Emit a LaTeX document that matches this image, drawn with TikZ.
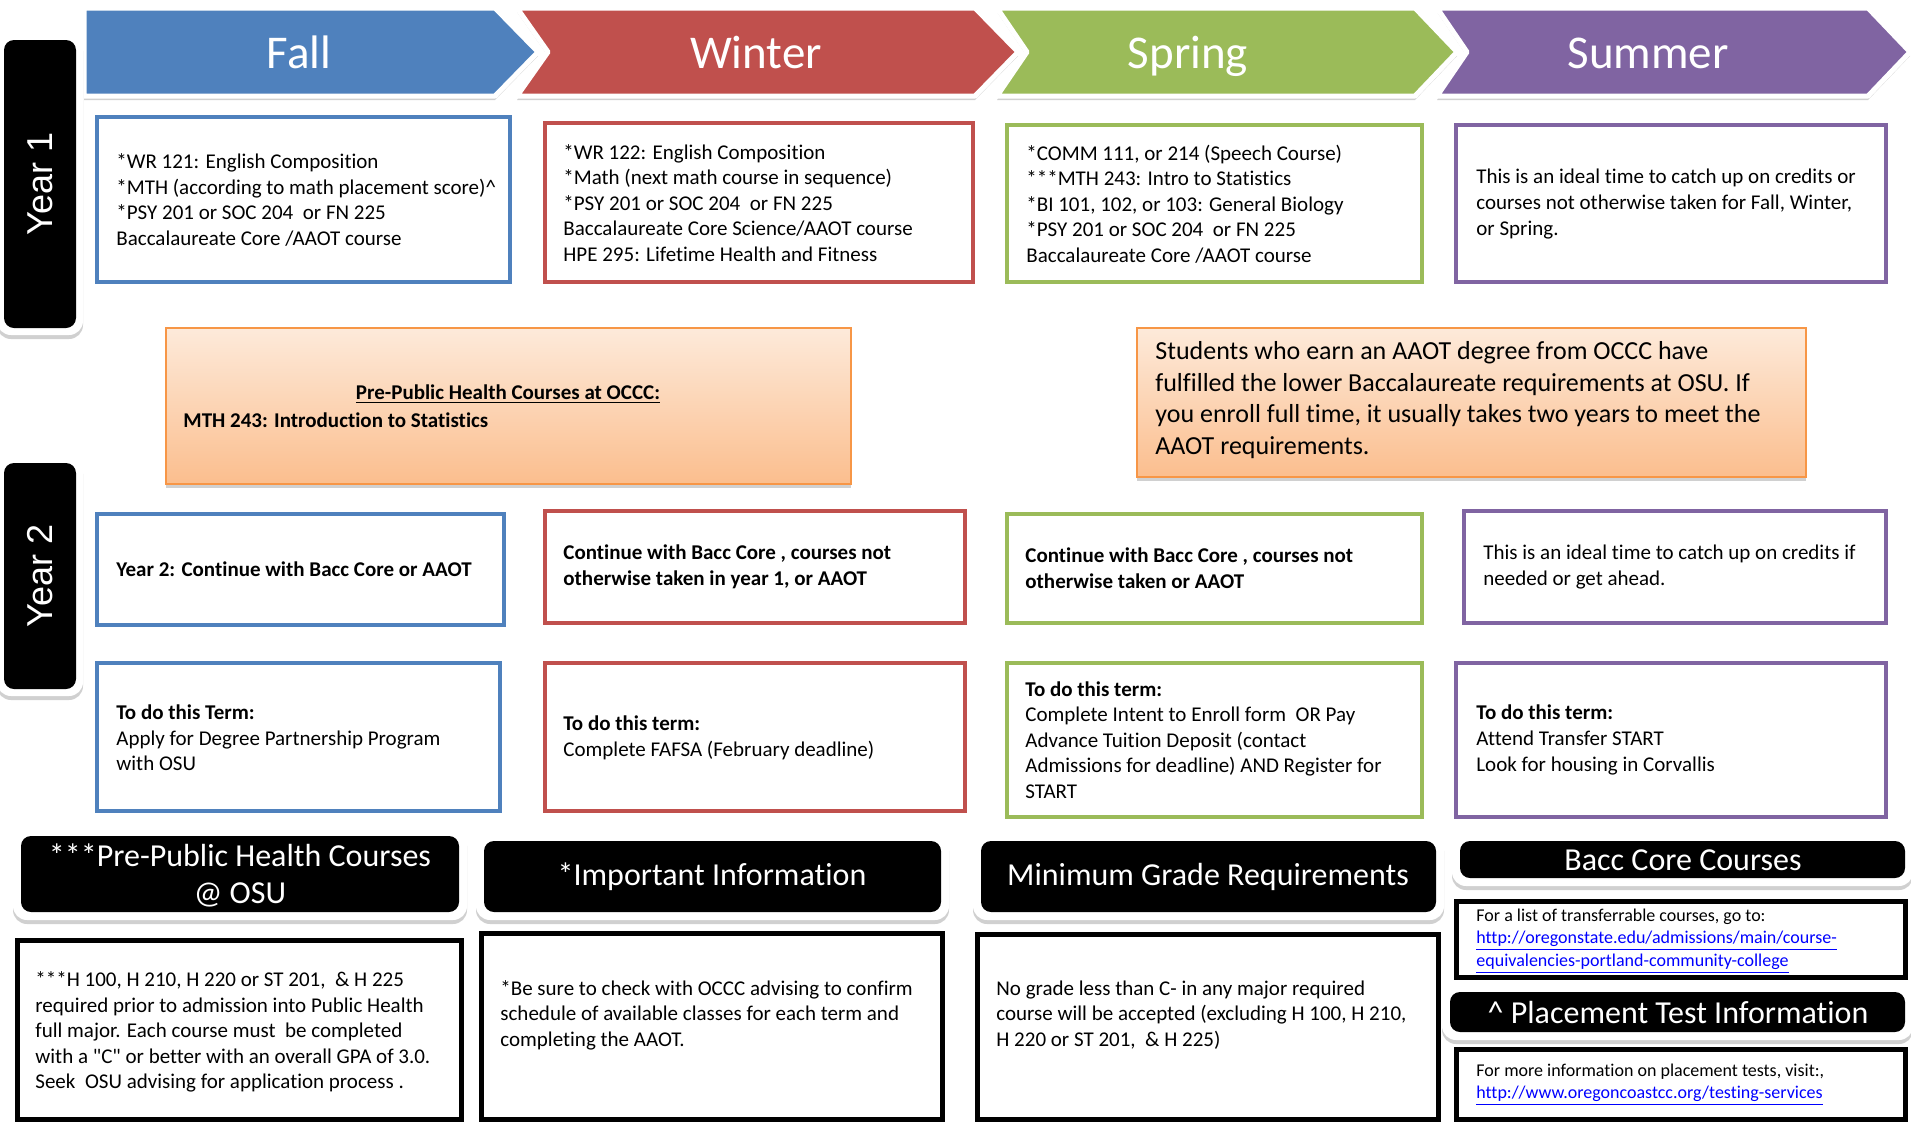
\documentclass[tikz,border=0pt]{standalone}
\usepackage{fontspec}
\setmainfont{Carlito}[Ligatures=CommonOff]
\newfontfamily\yearfont{Liberation Sans}
\newcommand\sqt{\XeTeXglyph\XeTeXcharglyph"22\relax}
\usetikzlibrary{shadows,fit}
\definecolor{cBlue}{HTML}{4F81BD}
\definecolor{cRed}{HTML}{C0504D}
\definecolor{cGreen}{HTML}{9BBB59}
\definecolor{cPurple}{HTML}{8064A2}
\definecolor{cOrange}{HTML}{F79646}
\definecolor{oTop}{HTML}{FDEADA}
\definecolor{oBot}{HTML}{FBBE8E}
\definecolor{cLink}{HTML}{0000FF}
\begin{document}
\begin{tikzpicture}[x=0.5pt,y=-0.5pt,
  myshadow/.style={drop shadow={shadow xshift=0pt,shadow yshift=-2pt,opacity=0.3,fill=black!60}},
  chev/.style={fill=#1,draw=white,line width=2.5pt,line join=round,myshadow},
  ttl/.style={text=white,inner sep=0,anchor=base,font=\fontsize{23.5}{28}\selectfont},
  cbox/.style={draw=#1,line width=2pt,fill=white,inner sep=-1pt},
  kbox/.style={draw=black,line width=2.5pt,fill=white,inner sep=-1.25pt},
  obox/.style={draw=cOrange,line width=1pt,top color=oTop,bottom color=oBot,inner sep=-0.5pt,myshadow},
  txt/.style={inner sep=0,anchor=west,align=left,font=\fontsize{10.5}{12.8}\selectfont},
  btxt/.style={inner sep=0,anchor=west,align=left,font=\fontsize{10.5}{12.8}\selectfont\bfseries},
  stxt/.style={inner sep=0,anchor=west,align=left,font=\fontsize{9}{11.2}\selectfont},
  wframe/.style={fill=white,rounded corners=7pt,inner sep=0,myshadow},
  kframe/.style={fill=black,rounded corners=5pt,inner sep=0},
  htxt/.style={text=white,inner sep=0,align=center,font=\fontsize{16}{18.5}\selectfont},
  ylab/.style={text=white,inner sep=0,rotate=90,font=\yearfont\fontsize{18}{20}\selectfont}]
\useasboundingbox (0,0) rectangle (1911,1125);
\fill[white] (0,0) rectangle (1911,1125);

% chevrons
\path[chev=cPurple] (1437,8) -- (1868,8) -- (1910,52) -- (1868,96) -- (1437,96) -- (1467,52) -- cycle;
\path[chev=cGreen] (997,8) -- (1415,8) -- (1457,52) -- (1415,96) -- (997,96) -- (1027,52) -- cycle;
\path[chev=cRed] (517,8) -- (975,8) -- (1018,52) -- (975,96) -- (517,96) -- (548,52) -- cycle;
\path[chev=cBlue] (84,8) -- (495,8) -- (538,52) -- (495,96) -- (84,96) -- cycle;
\node[ttl] (tFall) at (299,68) {Fall};
\node[ttl] (tWinter) at (756,68) {Winter};
\node[ttl] (tSpring) at (1188,68) {Spring};
\node[ttl] (tSummer) at (1648,68) {Summer};

% year labels
\node[wframe,fit={(-3,33) (83,335)}] (y1w) {};
\node[kframe,fit={(4,40) (76,328)}] (y1) {};
\node[ylab] (y1t) at (40,184) {Year 1};
\node[wframe,fit={(-3,456) (83,696)}] (y2w) {};
\node[kframe,fit={(4,463) (76,689)}] (y2) {};
\node[ylab] (y2t) at (40,576) {Year 2};

% year 1 boxes
\node[cbox=cBlue,fit={(95,115) (512,284)}] (fallA) {};
\node[txt] (fallAt) at (116,200) {*WR 121: English Composition\\*MTH (according to math placement score)\textasciicircum\\*PSY 201 or SOC 204\ \ or FN 225\\Baccalaureate Core /AAOT course};
\node[cbox=cRed,fit={(543,121) (975,284)}] (winterA) {};
\node[txt] (winterAt) at (563,203) {*WR 122: English Composition\\*Math (next math course in sequence)\\*PSY 201 or SOC 204\ \ or FN 225\\Baccalaureate Core Science/AAOT course\\HPE 295: Lifetime Health and Fitness};
\node[cbox=cGreen,fit={(1005,123) (1424,284)}] (springA) {};
\node[txt] (springAt) at (1026,204) {*COMM 111, or 214 (Speech Course)\\***MTH 243: Intro to Statistics\\*BI 101, 102, or 103: General Biology\\*PSY 201 or SOC 204\ \ or FN 225\\Baccalaureate Core /AAOT course};
\node[cbox=cPurple,fit={(1454,123) (1888,284)}] (summerA) {};
\node[txt] (summerAt) at (1476,204) {This is an ideal time to catch up on credits or\\courses not otherwise taken for Fall, Winter,\\or Spring.};

% orange boxes
\node[obox,fit={(165,327) (852,485)}] (occc) {};
\node[inner sep=0,font=\fontsize{10.5}{12.8}\selectfont\bfseries] (occct) at (508,394) {\underline{Pre-Public Health Courses at OCCC:}};
\node[btxt] (occcm) at (183,420) {MTH 243: Introduction to Statistics};
\node[obox,fit={(1136,327) (1807,478)}] (aaot) {};
\node[inner sep=0,anchor=west,align=left,font=\fontsize{13}{15.85}\selectfont] (aaott) at (1155,400) {Students who earn an AAOT degree from OCCC have\\fulfilled the lower Baccalaureate requirements at OSU. If\\you enroll full time, it usually takes two years to meet the\\AAOT requirements.};

% year 2 row 1
\node[cbox=cBlue,fit={(95,512) (506,627)}] (fallB) {};
\node[btxt] (fallBt) at (116,569) {Year 2: Continue with Bacc Core or AAOT};
\node[cbox=cRed,fit={(543,509) (967,625)}] (winterB) {};
\node[btxt] (winterBt) at (563,567) {Continue with Bacc Core , courses not\\otherwise taken in year 1, or AAOT};
\node[cbox=cGreen,fit={(1005,512) (1424,625)}] (springB) {};
\node[btxt] (springBt) at (1025,568) {Continue with Bacc Core , courses not\\otherwise taken or AAOT};
\node[cbox=cPurple,fit={(1462,509) (1888,625)}] (summerB) {};
\node[txt] (summerBt) at (1483,567) {This is an ideal time to catch up on credits if\\needed or get ahead.};

% year 2 row 2
\node[cbox=cBlue,fit={(95,661) (502,813)}] (fallC) {};
\node[txt] (fallCt) at (116,738) {\textbf{To do this Term:}\\Apply for Degree Partnership Program\\with OSU};
\node[cbox=cRed,fit={(543,661) (967,813)}] (winterC) {};
\node[txt] (winterCt) at (563,738) {\textbf{To do this term:}\\Complete FAFSA (February deadline)};
\node[cbox=cGreen,fit={(1005,661) (1424,819)}] (springC) {};
\node[txt] (springCt) at (1025,740) {\textbf{To do this term:}\\Complete Intent to Enroll form\ \ OR Pay\\Advance Tuition Deposit (contact\\Admissions for deadline) AND Register for\\START};
\node[cbox=cPurple,fit={(1454,661) (1888,819)}] (summerC) {};
\node[txt] (summerCt) at (1476,740) {\textbf{To do this term:}\\Attend Transfer START\\Look for housing in Corvallis};

% bottom headers
\node[wframe,fit={(13,828) (467,920)}] (h1w) {};
\node[kframe,fit={(21,836) (459,912)}] (h1) {};
\node[htxt] (h1t) at (240,875) {***Pre-Public Health Courses\\@ OSU};
\node[wframe,fit={(476,833) (949,920)}] (h2w) {};
\node[kframe,fit={(484,841) (941,912)}] (h2) {};
\node[htxt] (h2t) at (712,877) {*Important Information};
\node[wframe,fit={(973,833) (1444,920)}] (h3w) {};
\node[kframe,fit={(981,841) (1436,912)}] (h3) {};
\node[htxt] (h3t) at (1208,877) {Minimum Grade Requirements};
\node[wframe,fit={(1452,833) (1913,886)}] (h4w) {};
\node[kframe,fit={(1460,841) (1905,878)}] (h4) {};
\node[htxt] (h4t) at (1683,860) {Bacc Core Courses};
\node[wframe,fit={(1442,984) (1913,1040)}] (h5w) {};
\node[kframe,fit={(1450,992) (1905,1032)}] (h5) {};
\node[htxt] (h5t) at (1678,1012) {\textasciicircum\ Placement Test Information};

% bottom boxes
\node[kbox,fit={(15,938) (464,1122)}] (b1) {};
\node[txt] (b1t) at (35,1032) {***H 100, H 210, H 220 or ST 201,\ \ \& H 225\\required prior to admission into Public Health\\full major. Each course must\ \ be completed\\with a \sqt C\sqt{} or better with an overall GPA of 3.0.\\Seek\ \ OSU advising for application process .};
\node[kbox,fit={(479,931) (945,1122)}] (b2) {};
\node[txt] (b2t) at (500,1015) {*Be sure to check with OCCC advising to confirm\\schedule of available classes for each term and\\completing the AAOT.};
\node[kbox,fit={(975,932) (1441,1122)}] (b3) {};
\node[txt] (b3t) at (996,1015) {No grade less than C- in any major required\\course will be accepted (excluding H 100, H 210,\\H 220 or ST 201,\ \ \& H 225)};
\node[kbox,fit={(1454,899) (1908,980)}] (l1) {};
\node[stxt] (l1t) at (1476,941) {For a list of transferrable courses, go to:\\\textcolor{cLink}{\underline{http://oregonstate.edu/admissions/main/course-}}\\\textcolor{cLink}{\underline{equivalencies-portland-community-college}}};
\node[kbox,fit={(1454,1047) (1908,1122)}] (l2) {};
\node[stxt] (l2t) at (1476,1085) {For more information on placement tests, visit:,\\\textcolor{cLink}{\underline{http://www.oregoncoastcc.org/testing-services}}};
\end{tikzpicture}
\end{document}
